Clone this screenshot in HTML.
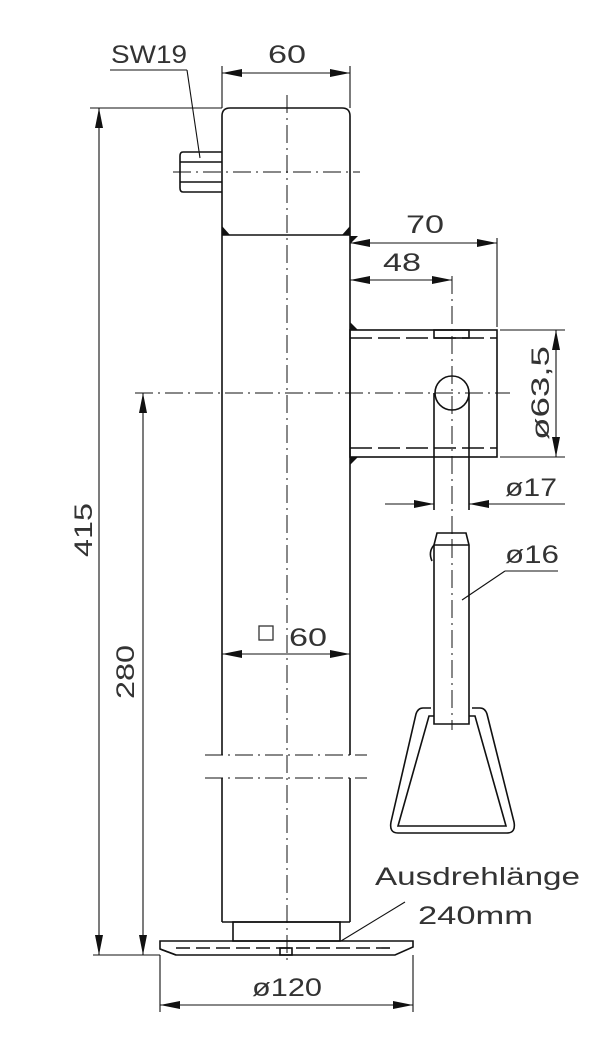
<!DOCTYPE html>
<html><head><meta charset="utf-8">
<style>
html,body{margin:0;padding:0;background:#fff;}
svg{display:block;}
text{font-family:"Liberation Sans",sans-serif;font-size:25px;fill:#333;}
</style></head>
<body>
<svg width="613" height="1047" viewBox="0 0 613 1047" xmlns="http://www.w3.org/2000/svg">
<defs>
<marker id="a" viewBox="0 0 20 8" refX="20" refY="4" markerWidth="20" markerHeight="8" markerUnits="userSpaceOnUse" orient="auto-start-reverse">
<path d="M0,0 L20,4 L0,8 Z" fill="#111"/>
</marker>
</defs>
<g stroke="#111" stroke-width="1.6" fill="none">
<path d="M222,235 L222,116 Q222,108 230,108 L342,108 Q350,108 350,116 L350,235"/>
<line x1="222" y1="235" x2="350" y2="235"/>
<line x1="222" y1="235" x2="222" y2="755"/>
<line x1="350" y1="235" x2="350" y2="755"/>
<line x1="222" y1="778" x2="222" y2="922"/>
<line x1="350" y1="778" x2="350" y2="922"/>
<line x1="222" y1="922" x2="350" y2="922"/>
<rect x="233" y="922" width="107" height="19"/>
<path d="M160,941 L413,941 L413,947 L395,955 L176,955 L160,949 Z"/>
<path d="M160,949 L176,955" />
<line x1="176" y1="948" x2="395" y2="948" stroke-dasharray="14,6"/>
<rect x="280" y="948" width="12" height="7"/>
<path d="M222,152 L183,152 Q180,152 180,156 L180,188 Q180,192 183,192 L222,192"/>
<line x1="180" y1="162" x2="222" y2="162"/>
<line x1="180" y1="182" x2="222" y2="182"/>
<rect x="350" y="330" width="147" height="127"/>
<line x1="350" y1="338" x2="497" y2="338" stroke-dasharray="22,6"/>
<line x1="350" y1="448" x2="497" y2="448" stroke-dasharray="22,6"/>
<rect x="434" y="330" width="35" height="8"/>
<circle cx="452" cy="393" r="17"/>
<line x1="434" y1="393" x2="434" y2="510"/>
<line x1="469" y1="393" x2="469" y2="510"/>
<path d="M434,724 L434,545 L437,533 L466,533 L469,545 L469,724 Z"/>
<line x1="434" y1="545" x2="469" y2="545"/>
<path d="M434,545 Q428,552 432,561"/>
<path d="M431,708 L423,708 Q418,708 416,714 L391,822 Q389,833 398,833 L507,833 Q516,833 514,822 L487,714 Q485,708 480,708 L472,708"/>
<path d="M434,716 L429,716 L398,826 L506,826 L475,716 L469,716"/>
</g>
<g fill="#111">
<path d="M222,226 L222,235 L230,235 Z"/>
<path d="M350,226 L350,235 L342,235 Z"/>
<path d="M350,236 L350,244 L358,236 Z"/>
<path d="M350,322 L350,330 L358,330 Z"/>
<path d="M350,457 L350,465 L358,457 Z"/>
</g>
<g stroke="#111" stroke-width="1" fill="none" stroke-dasharray="18,5,2,5">
<line x1="287" y1="95" x2="287" y2="965"/>
<line x1="173" y1="172" x2="360" y2="172"/>
<line x1="135" y1="393" x2="510" y2="393"/>
<line x1="452" y1="276" x2="452" y2="540"/>
<line x1="452" y1="540" x2="452" y2="730"/>
<line x1="205" y1="755" x2="367" y2="755"/>
<line x1="205" y1="778" x2="367" y2="778"/>
</g>
<g stroke="#111" stroke-width="1.1" fill="none">
<line x1="222" y1="66" x2="222" y2="108"/>
<line x1="350" y1="66" x2="350" y2="108"/>
<line x1="222" y1="73" x2="350" y2="73" marker-start="url(#a)" marker-end="url(#a)"/>
<line x1="110" y1="70" x2="187" y2="70"/>
<line x1="187" y1="70" x2="200" y2="158"/>
<line x1="90" y1="108" x2="222" y2="108"/>
<line x1="99" y1="108" x2="99" y2="955" marker-start="url(#a)" marker-end="url(#a)"/>
<line x1="143" y1="393" x2="143" y2="955" marker-start="url(#a)" marker-end="url(#a)"/>
<line x1="93" y1="955" x2="160" y2="955"/>
<line x1="350" y1="243" x2="497" y2="243" marker-start="url(#a)" marker-end="url(#a)"/>
<line x1="497" y1="238" x2="497" y2="327"/>
<line x1="350" y1="280" x2="452" y2="280" marker-start="url(#a)" marker-end="url(#a)"/>
<line x1="500" y1="330" x2="565" y2="330"/>
<line x1="500" y1="457" x2="565" y2="457"/>
<line x1="556" y1="330" x2="556" y2="457" marker-start="url(#a)" marker-end="url(#a)"/>
<line x1="385" y1="504" x2="434" y2="504" marker-end="url(#a)"/>
<line x1="565" y1="504" x2="469" y2="504" marker-end="url(#a)"/>
<line x1="222" y1="654" x2="350" y2="654" marker-start="url(#a)" marker-end="url(#a)"/>
<line x1="505" y1="571" x2="558" y2="571"/>
<line x1="505" y1="571" x2="462" y2="600"/>
<line x1="405" y1="902" x2="341" y2="941"/>
<line x1="160" y1="955" x2="160" y2="1012"/>
<line x1="413" y1="955" x2="413" y2="1012"/>
<line x1="160" y1="1005" x2="413" y2="1005" marker-start="url(#a)" marker-end="url(#a)"/>
</g>
<rect x="259" y="626" width="14" height="14" fill="none" stroke="#333" stroke-width="1.3"/>
<text x="111" y="63" textLength="76" lengthAdjust="spacingAndGlyphs">SW19</text>
<text x="268" y="63" textLength="38" lengthAdjust="spacingAndGlyphs">60</text>
<text x="406" y="233" textLength="38" lengthAdjust="spacingAndGlyphs">70</text>
<text x="383" y="271" textLength="38" lengthAdjust="spacingAndGlyphs">48</text>
<text x="505" y="496" textLength="52" lengthAdjust="spacingAndGlyphs">ø17</text>
<text x="505" y="563" textLength="54" lengthAdjust="spacingAndGlyphs">ø16</text>
<text x="289" y="646" textLength="38" lengthAdjust="spacingAndGlyphs">60</text>
<text transform="translate(549,393) rotate(-90)" x="-47" textLength="94" lengthAdjust="spacingAndGlyphs">ø63,5</text>
<text transform="translate(92,530) rotate(-90)" x="-27" textLength="54" lengthAdjust="spacingAndGlyphs">415</text>
<text transform="translate(134,672) rotate(-90)" x="-27" textLength="54" lengthAdjust="spacingAndGlyphs">280</text>
<text x="375" y="885" textLength="205" lengthAdjust="spacingAndGlyphs">Ausdrehlänge</text>
<text x="418" y="924" textLength="115" lengthAdjust="spacingAndGlyphs">240mm</text>
<text x="252" y="996" textLength="70" lengthAdjust="spacingAndGlyphs">ø120</text>
</svg>
</body></html>
